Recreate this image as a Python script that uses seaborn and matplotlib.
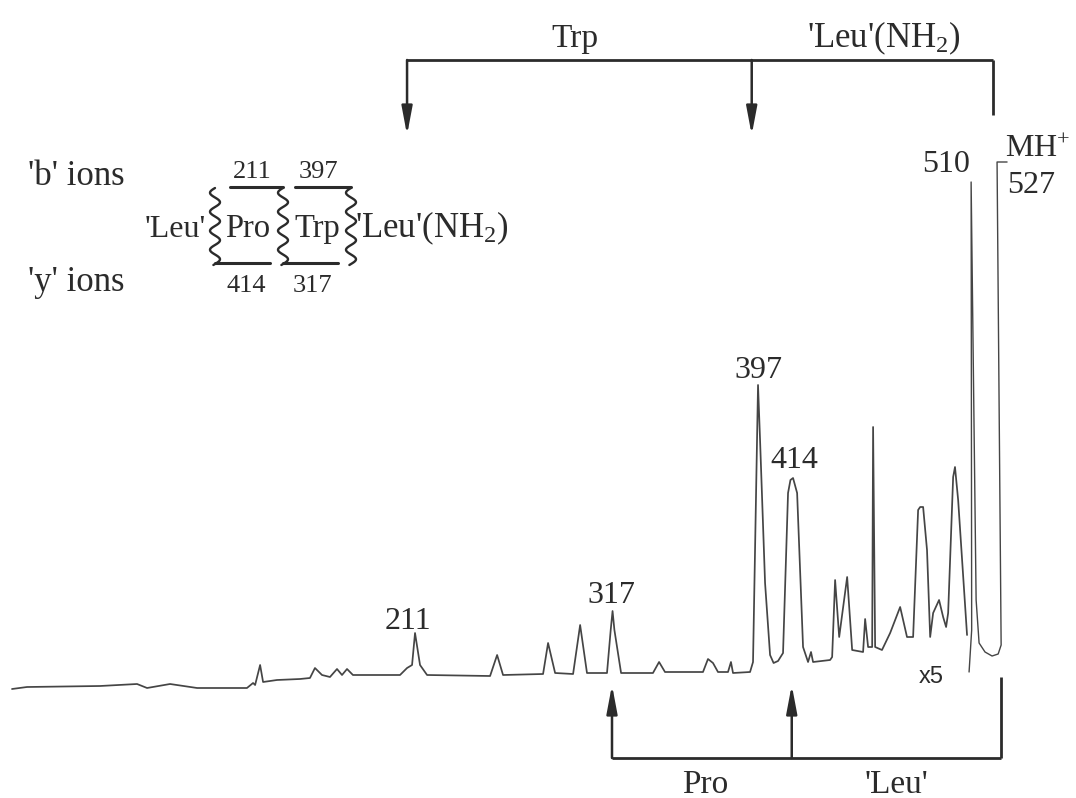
import numpy as np
import pandas as pd
import matplotlib
matplotlib.use("Agg")
import matplotlib.pyplot as plt
import seaborn as sns

# MS/MS trace (m/z, relative intensity)
trace_mz = [-6.5, 1.6, 41.0, 61.0, 66.4, 78.8, 93.4, 120.3, 123.6, 124.7, 127.4, 129.0,
            136.5, 148.9, 154.3, 157.0, 160.8, 165.1, 168.9, 171.6, 174.3, 177.5, 202.9,
            206.7, 209.4, 211.0, 213.7, 217.5, 251.5, 255.3, 258.5, 280.1, 282.8, 286.6,
            296.3, 300.1, 303.8, 314.6, 316.6, 317.6, 318.6, 322.2, 339.4, 342.7, 345.9,
            366.4, 369.1, 371.8, 374.5, 379.9, 381.5, 382.6, 391.8, 393.4, 396.1, 397.2,
            399.9, 402.6, 404.5, 406.9, 409.6, 412.3, 413.6, 415.0, 417.2, 420.4, 423.1,
            424.7, 425.8, 435.0, 436.1, 437.7, 439.9, 444.2, 446.9, 452.8, 453.9, 455.5,
            457.7, 458.2, 459.3, 463.0, 467.4, 472.8, 476.5, 479.8, 482.5, 483.6, 485.2,
            487.3, 489.0, 490.6, 493.8, 496.0, 497.6, 498.7, 499.7, 501.4, 502.4, 504.1,
            508.9]
trace_int = [0.2, 0.6, 0.8, 1.2, 0.4, 1.2, 0.4, 0.4, 1.4, 1.0, 5.0, 1.6,
             2.0, 2.2, 2.4, 4.4, 3.0, 2.6, 4.2, 3.0, 4.2, 3.0, 3.0,
             4.4, 5.0, 11.4, 5.0, 3.0, 2.8, 7.0, 3.0, 3.2, 9.4, 3.4,
             3.2, 13.0, 3.4, 3.4, 12.0, 15.8, 12.0, 3.4, 3.4, 5.6, 3.6,
             3.6, 6.2, 5.4, 3.6, 3.6, 5.6, 3.4, 3.6, 5.6, 61.0, 50.0,
             21.4, 7.0, 5.4, 5.8, 7.4, 39.4, 42.0, 42.4, 39.4, 8.6, 5.6,
             7.6, 5.6, 6.0, 6.6, 22.0, 10.6, 22.6, 8.0, 7.6, 14.2, 8.6,
             8.6, 52.6, 8.6, 8.0, 11.4, 16.6, 10.6, 10.6, 36.0, 36.6, 36.6,
             28.0, 10.6, 15.4, 18.0, 14.6, 12.6, 15.4, 25.4, 42.6, 44.6, 38.0,
             11.0]

# x5 expanded region (510 and MH+ 527)
x5_mz = [510.0, 511.4, 511.1, 513.8, 515.4, 518.6, 522.4, 525.7, 527.3, 525.1, 530.5]
x5_int = [3.6, 12.0, 101.6, 18.0, 9.4, 7.6, 6.8, 7.2, 9.0, 105.6, 105.6]

peak_labels = ["211", "317", "397", "414", "510"]
peak_mz = [211, 317, 397, 414, 510]

b_ions = [211, 397, 527]
b_steps = ["Trp", "'Leu'(NH$_2$)"]
y_ions = [317, 414, 527]
y_steps = ["Pro", "'Leu'"]

ink = "#2b2b2b"
line_col = "#454545"

sns.set_theme(style="white")
plt.rcParams["font.family"] = ["Liberation Serif", "DejaVu Serif"]
plt.rcParams["mathtext.fontset"] = "custom"
plt.rcParams["mathtext.rm"] = "Liberation Serif"
plt.rcParams["mathtext.it"] = "Liberation Serif:italic"

fig = plt.figure(figsize=(10.76, 7.98), dpi=100)
fig.patch.set_facecolor("white")
ax = fig.add_axes([0, 0, 1, 1])
ax.axis("off")

main = pd.DataFrame({"mz": trace_mz, "intensity": trace_int})
inset = pd.DataFrame({"mz": x5_mz, "intensity": x5_int})
sns.lineplot(data=main, x="mz", y="intensity", sort=False, estimator=None,
             color=line_col, lw=1.25, ax=ax)
sns.lineplot(data=inset, x="mz", y="intensity", sort=False, estimator=None,
             color=line_col, lw=1.0, ax=ax)
ax.set_xlim(-12.97, 567.7)
ax.set_ylim(-21.6, 138)

# peak labels placed above the apex of each peak
offsets = {"211": (-7, 4), "317": (-1, 8), "397": (0, 7), "414": (1, 10), "510": (-25, 10)}
all_mz = np.array(trace_mz + x5_mz)
all_int = np.array(trace_int + x5_int)
for lab, m in zip(peak_labels, peak_mz):
    win = np.abs(all_mz - m) < 2.5
    top = all_int[win].max()
    apex = all_mz[win][np.argmax(all_int[win])]
    ax.annotate(lab, xy=(apex, top), xytext=offsets[lab], textcoords="offset pixels",
                ha="center", va="baseline", fontsize=23, color=ink)

top527 = max(x5_int)
ax.annotate("MH$^{+}$", xy=(525.1, top527), xytext=(8, 5), textcoords="offset pixels",
            ha="left", va="baseline", fontsize=23, color=ink)
ax.annotate("527", xy=(525.1, top527), xytext=(10, -31), textcoords="offset pixels",
            ha="left", va="baseline", fontsize=23, color=ink)
ax.text(489.5, 1.4, "x5", ha="center", va="baseline", fontsize=17, color=ink,
        family=["Liberation Sans", "DejaVu Sans"])

arrow_style = "-|>,head_length=1.7,head_width=0.32"


def bracket(ions, shift, bar_y, tip_y, end_y):
    xs = [v + shift for v in ions]
    ax.plot([xs[0], xs[-1]], [bar_y, bar_y], color=ink, lw=2.0, solid_capstyle="butt")
    for x in xs[:-1]:
        ax.annotate("", xy=(x, tip_y), xytext=(x, bar_y),
                    arrowprops=dict(arrowstyle=arrow_style, color=ink, lw=1.8,
                                    shrinkA=0, shrinkB=0, mutation_scale=10))
    ax.plot([xs[-1], xs[-1]], [bar_y, end_y], color=ink, lw=2.0, solid_capstyle="butt")
    return xs


bracket(b_ions, -4.3, 126, 111, 115)
ax.text(297.4, 128.6, b_steps[0], ha="center", va="baseline", fontsize=24, color=ink)
ax.text(464.1, 128.6, b_steps[1], ha="center", va="baseline", fontsize=25, color=ink)

bracket(y_ions, 0.3, -13.6, 1.0, 2.6)
ax.text(367.5, -20.6, y_steps[0], ha="center", va="baseline", fontsize=24, color=ink)
ax.text(470.6, -20.6, y_steps[1], ha="center", va="baseline", fontsize=24, color=ink)

# fragmentation scheme, drawn in pixel coordinates
ov = fig.add_axes([0, 0, 1, 1])
ov.set_xlim(0, 1076)
ov.set_ylim(798, 0)
ov.axis("off")
ov.patch.set_alpha(0)


def squiggle(xc, y0, y1, amp=5.0, period=19.0):
    yy = np.linspace(y0, y1, 120)
    xx = xc - amp * np.sin(2 * np.pi * (yy - y0) / period)
    ov.plot(xx, yy, color=ink, lw=1.7)


ov.text(28, 185, "'b' ions", ha="left", va="baseline", fontsize=25, color=ink)
ov.text(28, 291, "'y' ions", ha="left", va="baseline", fontsize=25, color=ink)
ov.text(252, 178, "211", ha="center", va="baseline", fontsize=19, color=ink)
ov.text(318, 178, "397", ha="center", va="baseline", fontsize=19, color=ink)
ov.text(246, 292, "414", ha="center", va="baseline", fontsize=19, color=ink)
ov.text(312, 292, "317", ha="center", va="baseline", fontsize=19, color=ink)
ov.text(206, 237, "'Leu'", ha="right", va="baseline", fontsize=23, color=ink)
ov.text(248, 237, "Pro", ha="center", va="baseline", fontsize=23.5, color=ink)
ov.text(317, 237, "Trp", ha="center", va="baseline", fontsize=23.5, color=ink)
ov.text(355, 237, "'Leu'(NH$_2$)", ha="left", va="baseline", fontsize=25, color=ink)

for xc in (215, 283, 351):
    squiggle(xc, 188, 265)
ov.plot([230, 283], [187, 187], color=ink, lw=2.2)
ov.plot([295, 351], [187, 187], color=ink, lw=2.2)
ov.plot([215, 270], [263, 263], color=ink, lw=2.2)
ov.plot([283, 338], [263, 263], color=ink, lw=2.2)

fig.savefig("out.png", dpi=100, facecolor="white")
